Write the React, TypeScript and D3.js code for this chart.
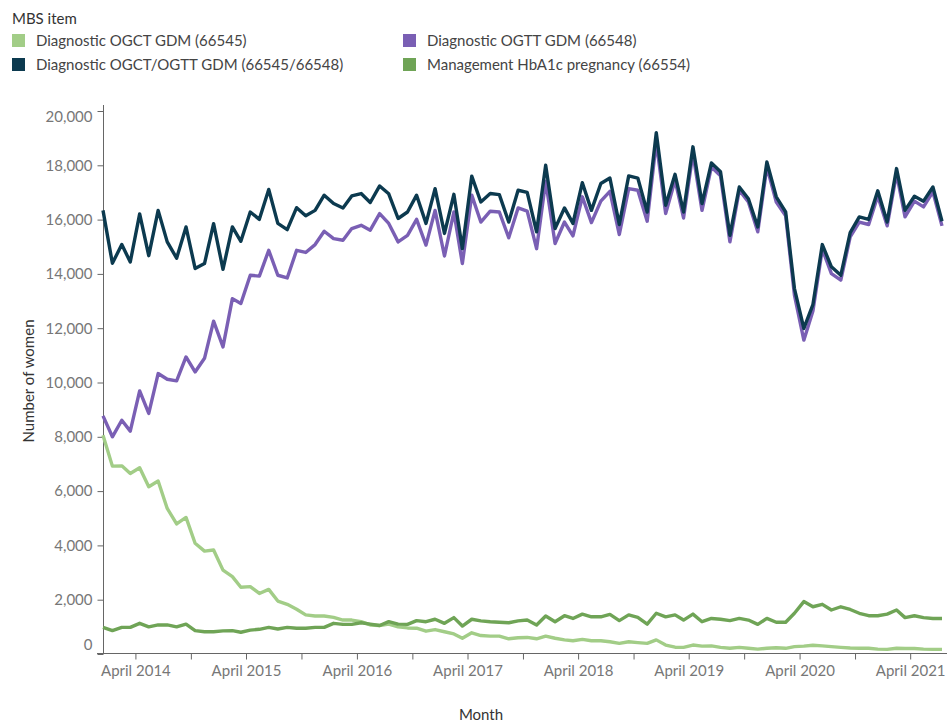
import * as d3 from "d3";
import { useEffect, useRef } from "react";

// monthly values, Dec 2013 .. Jul 2021
const startYear = 2013
const startMonth = 11

const ogct = [
  8060, 6920, 6930, 6650, 6860, 6160, 6370, 5360, 4790, 5030, 4080, 3790,
  3830, 3090, 2850, 2460, 2480, 2230, 2380, 1950, 1830, 1650, 1440, 1400,
  1400, 1350, 1250, 1250, 1190, 1070, 1050, 1100, 1000, 960, 950, 840,
  900, 820, 740, 580, 780, 680, 660, 660, 560, 600, 610, 560,
  660, 580, 520, 490, 540, 490, 490, 450, 390, 450, 420, 390,
  520, 330, 250, 245, 330, 290, 300, 245, 210, 245, 210, 180,
  210, 230, 210, 270, 290, 320, 300, 270, 245, 220, 210, 210,
  180, 170, 210, 200, 200, 180, 170, 170
]

const ogtt = [
  8770, 8000, 8610, 8210, 9690, 8860, 10330, 10120, 10060, 10940, 10390, 10890,
  12260, 11310, 13090, 12910, 13950, 13920, 14870, 13950, 13850, 14870, 14790, 15080,
  15570, 15300, 15240, 15670, 15790, 15610, 16220, 15860, 15180, 15420, 16010, 15060,
  16340, 14660, 16280, 14380, 16900, 15910, 16310, 16280, 15330, 16430, 16310, 14930,
  17410, 15120, 15910, 15400, 16840, 15890, 16680, 17040, 15450, 17140, 17080, 15940,
  18860, 16220, 17450, 16060, 18430, 16340, 17940, 17610, 15180, 17080, 16650, 15550,
  17940, 16650, 16140, 13220, 11560, 12630, 14910, 14010, 13770, 15360, 15910, 15820,
  16870, 15770, 17690, 16100, 16680, 16470, 17020, 15770
]

const combined = [
  16340, 14390, 15080, 14440, 16210, 14670, 16340, 15180, 14580, 15730, 14200, 14380,
  15850, 14170, 15730, 15200, 16280, 16010, 17110, 15860, 15630, 16440, 16140, 16340,
  16900, 16590, 16430, 16870, 16960, 16630, 17240, 16950, 16040, 16280, 16900, 15860,
  17140, 15490, 16930, 14930, 17600, 16650, 16960, 16920, 15910, 17080, 17000, 15550,
  18000, 15670, 16430, 15860, 17360, 16340, 17330, 17530, 15820, 17610, 17530, 16280,
  19200, 16530, 17670, 16280, 18680, 16590, 18090, 17760, 15420, 17200, 16770, 15730,
  18120, 16840, 16280, 13460, 11990, 12870, 15080, 14260, 13950, 15520, 16100, 16010,
  17060, 15910, 17880, 16340, 16860, 16680, 17200, 15940
]

const hba1c = [
  980, 860, 980, 980, 1130, 1000, 1070, 1070, 1000, 1100, 860, 820,
  820, 850, 860, 800, 880, 910, 980, 920, 980, 950, 950, 980,
  980, 1130, 1090, 1090, 1150, 1100, 1050, 1190, 1100, 1090, 1230, 1190,
  1280, 1130, 1340, 1030, 1280, 1220, 1190, 1170, 1150, 1220, 1250, 1070,
  1400, 1190, 1410, 1310, 1470, 1370, 1370, 1460, 1230, 1440, 1350, 1100,
  1500, 1370, 1440, 1250, 1470, 1190, 1310, 1280, 1230, 1310, 1250, 1090,
  1310, 1170, 1170, 1500, 1930, 1740, 1830, 1620, 1740, 1640, 1500, 1410,
  1410, 1470, 1620, 1340, 1410, 1340, 1310, 1310
]

// legend order: left column then right column, row by row
const seriesNames = [
  "Diagnostic OGCT GDM (66545)",
  "Diagnostic OGTT GDM (66548)",
  "Diagnostic OGCT/OGTT GDM (66545/66548)",
  "Management HbA1c pregnancy (66554)"
]
const seriesColors = ["#a2cd87", "#7a5fb4", "#0c3a4f", "#6fa456"]

const yTicks = [0, 2000, 4000, 6000, 8000, 10000, 12000, 14000, 16000, 18000, 20000]
const tickYears = [2014, 2015, 2016, 2017, 2018, 2019, 2020, 2021]

export default function App() {
  const width = 947
  const height = 722
  const font = "Lato, 'Open Sans', sans-serif"

  const axisx: any = useRef();
  const axisy: any = useRef();

  const dates = combined.map((_, i) => new Date(startYear, startMonth + i, 15))

  const x: any = d3.scaleTime(
    [dates[0], dates[dates.length - 1]],
    [103, 942])

  const y: any = d3.scaleLinear(
    [0, 20000],
    [654, 111])

  const line = d3.line<number>()
    .x((_, i) => x(dates[i]))
    .y(d => y(d))

  const tickDates: Date[] = []
  tickYears.forEach(yr => {
    tickDates.push(new Date(yr, 3, 1))
    const oct = new Date(yr, 9, 1)
    if (oct <= dates[dates.length - 1]) tickDates.push(oct)
  })

  useEffect(() => {
    void d3.select(axisx.current)
      .call(d3.axisBottom(x).tickValues(tickDates).tickSize(6).tickSizeOuter(0)
        .tickFormat((d: any) => d.getMonth() === 3 ? `April ${d.getFullYear()}` : ""))
      .call(g => g.select(".domain").remove())
      .call(g => g.selectAll(".tick line").attr("stroke", "#666"))
      .call(g => g.selectAll(".tick text")
        .attr("fill", "#777")
        .attr("font-size", 15)
        .attr("font-family", font)
        .attr("dy", "0.9em"))
    void d3.select(axisy.current)
      .call(d3.axisLeft(y).tickValues(yTicks).tickSize(6).tickSizeOuter(0)
        .tickFormat(d3.format(",")))
      .call(g => g.select(".domain").remove())
      .call(g => g.selectAll(".tick line").attr("stroke", "#666"))
      .call(g => g.selectAll(".tick text")
        .attr("fill", "#777")
        .attr("font-size", 15)
        .attr("font-family", font)
        .attr("x", -11)
        .attr("dy", (d: any) => d === 0 ? "-0.3em" : d === 20000 ? "0.7em" : "0.32em"))
  }, [x, y])

  const data = [ogct, ogtt, combined, hba1c]
  const drawOrder = [0, 1, 2, 3]

  return (
    <svg width={width} height={height}
      style={{ position: "absolute", left: 0, top: 0, background: "#fff" }}
      fontFamily={font}>
      <text x={12} y={24} fontSize={15} fill="#333">MBS item</text>
      {seriesNames.map((name, k) => {
        const col = k % 2
        const row = Math.floor(k / 2)
        const lx = col === 0 ? 12 : 403
        const ly = 34 + row * 24
        return (
          <g key={k}>
            <rect x={lx} y={ly} width={13} height={13} fill={seriesColors[k]} />
            <text x={lx + 24} y={ly + 12} fontSize={15} fill="#444">{name}</text>
          </g>
        )
      })}

      <g ref={axisx} transform={`translate(0, 653.5)`} />
      <g ref={axisy} transform={`translate(103.5, 0)`} />
      <line x1={97} x2={947} y1={653.5} y2={653.5} stroke="#666" />
      <line x1={103.5} x2={103.5} y1={105} y2={653.5} stroke="#666" />

      {drawOrder.map(s => (
        <path key={s}
          fill="none"
          stroke={seriesColors[s]}
          strokeWidth={3.4}
          strokeLinejoin="round"
          d={line(data[s]) as string} />
      ))}

      <text transform="translate(34, 381) rotate(-90)" textAnchor="middle"
        fontSize={15} fill="#333">Number of women</text>
      <text x={481} y={720} textAnchor="middle" fontSize={15} fill="#333">Month</text>
    </svg>
  )
}
